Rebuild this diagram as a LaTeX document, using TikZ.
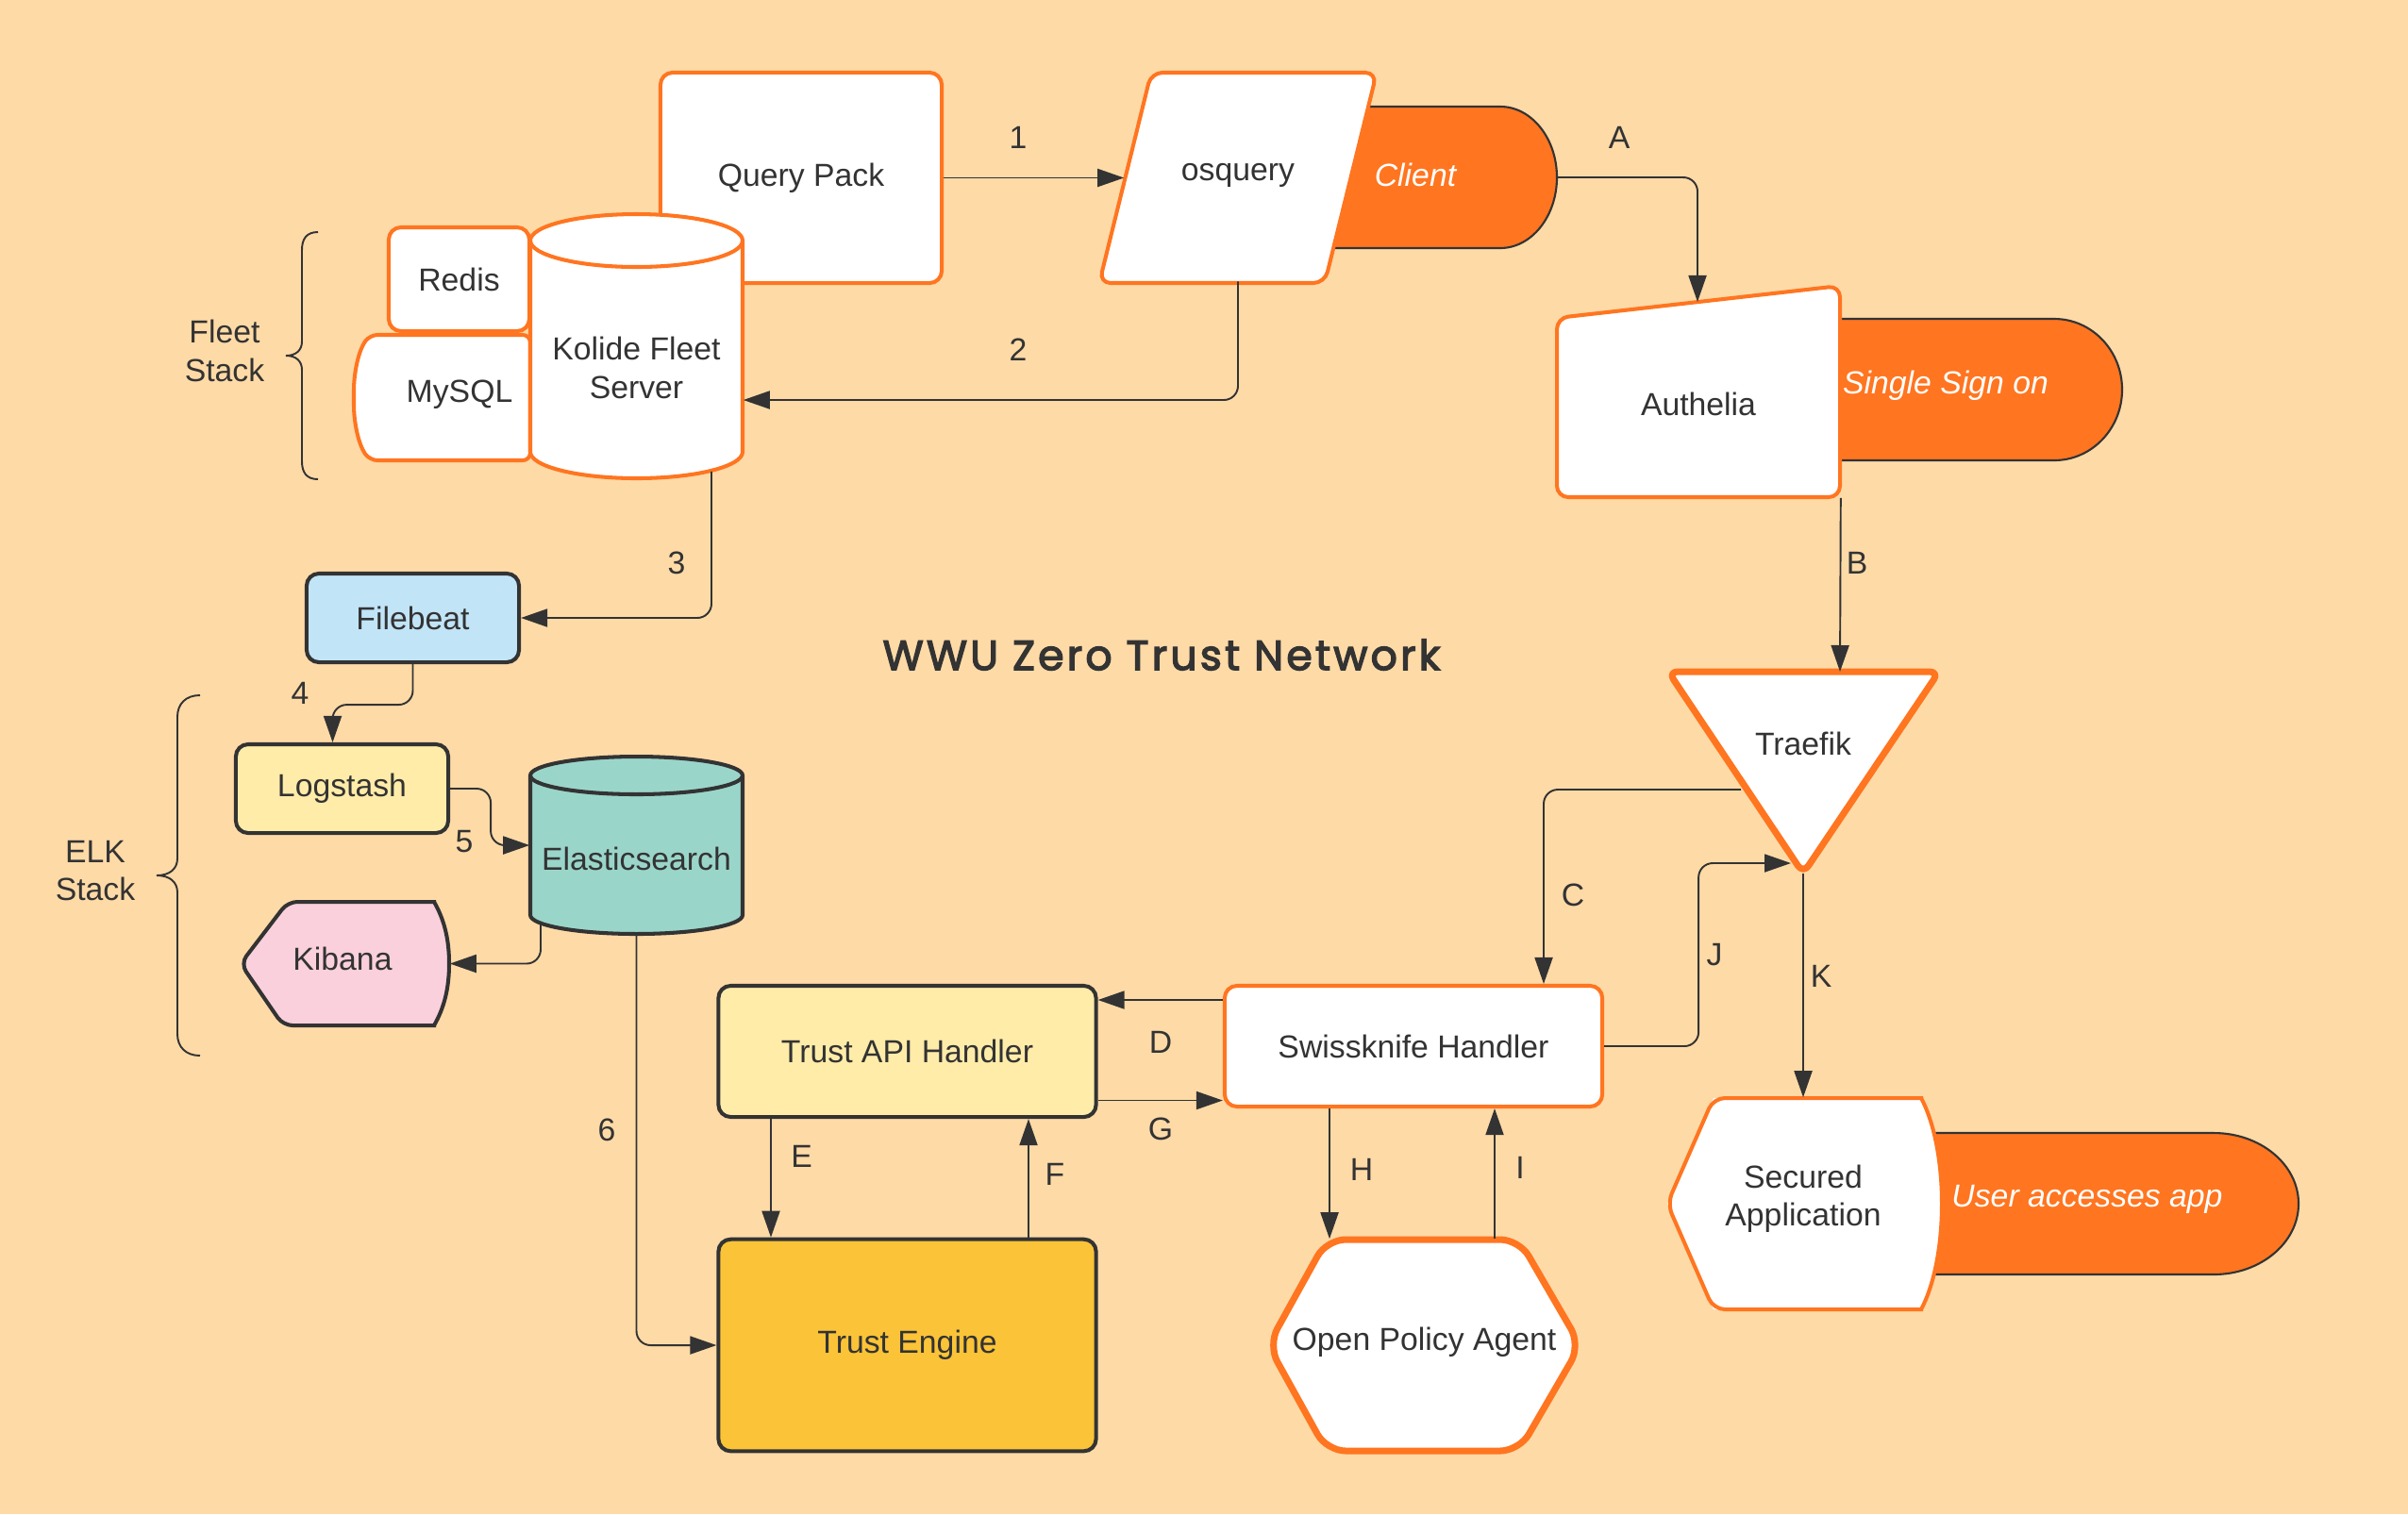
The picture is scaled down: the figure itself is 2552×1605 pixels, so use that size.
\documentclass[tikz,border=0pt]{standalone}
\usepackage{fontspec}
\setmainfont{Liberation Sans}
\newfontfamily\titlefont[FakeBold=3,LetterSpace=7]{Poppins}
\usetikzlibrary{arrows.meta,calc}
\definecolor{bgc}{RGB}{254,218,167}
\definecolor{orng}{RGB}{255,117,32}
\definecolor{dark}{RGB}{51,51,51}
\definecolor{fbblue}{RGB}{193,228,247}
\definecolor{ltyel}{RGB}{255,236,169}
\definecolor{esteal}{RGB}{154,213,202}
\definecolor{kpink}{RGB}{249,208,220}
\definecolor{amber}{RGB}{251,195,55}
\begin{document}
\begin{tikzpicture}[x=0.01cm,y=-0.01cm,
  tx/.style={font=\fontsize{9.6}{11.5}\selectfont, text=dark, align=center},
  rbox/.style={rectangle, rounded corners=0.13cm, inner sep=0pt, tx},
  ghost/.style={rectangle, inner sep=0pt, tx},
  obrd/.style={draw=orng, line width=1.15pt, fill=white},
  dbrd/.style={draw=dark, line width=1.15pt},
  tbrd/.style={draw=orng, line width=2pt, fill=white, line join=round},
  conn/.style={draw=dark, line width=0.55pt, rounded corners=0.15cm},
  arr/.style={conn, -{Triangle[length=0.28cm,width=0.19cm]}},
  pill/.style={fill=orng, draw=dark, line width=0.6pt},
  pilltx/.style={font=\fontsize{9.6}{11.5}\selectfont\itshape, text=white},
  brace/.style={draw=dark, line width=0.55pt}]
\fill[bgc] (0,0) rectangle (2552,1605);
\useasboundingbox (0,0) rectangle (2552,1605);

% ---------- title ----------
\node[font={\titlefont\fontsize{12.6}{15}\selectfont}, text=dark] (title) at (1231,694) {WWU Zero Trust Network};

% ---------- braces ----------
\draw[brace] (337,246) .. controls (325,246) and (320,253) .. (320,265) -- (320,362) .. controls (320,371) and (314,377) .. (303,377) .. controls (314,377) and (320,383) .. (320,392) -- (320,489) .. controls (320,501) and (325,508) .. (337,508);
\node[tx] (fleet) at (238,372) {Fleet\\Stack};
\draw[brace] (212,737) .. controls (197,737) and (188,746) .. (188,760) -- (188,910) .. controls (188,921) and (180,928) .. (166,928) .. controls (180,928) and (188,935) .. (188,946) -- (188,1096) .. controls (188,1110) and (197,1119) .. (212,1119);
\node[tx] (elk) at (101,923) {ELK\\Stack};

% ---------- pills ----------
\draw[pill] (1380,113) -- (1590,113) .. controls (1623,113) and (1650,146.6) .. (1650,188) .. controls (1650,229.4) and (1623,263) .. (1590,263) -- (1380,263) -- cycle;
\draw[pill] (1900,338) -- (2177,338) .. controls (2216.8,338) and (2249,371.6) .. (2249,413) .. controls (2249,454.4) and (2216.8,488) .. (2177,488) -- (1900,488) -- cycle;
\draw[pill] (2000,1201) -- (2346,1201) .. controls (2395.7,1201) and (2436,1234.6) .. (2436,1276) .. controls (2436,1317.4) and (2395.7,1351) .. (2346,1351) -- (2000,1351) -- cycle;

% ---------- top left cluster ----------
\node[rbox,obrd,minimum width=2.98cm,minimum height=2.23cm] (qp) at (849,188.5) {Query Pack};
\node[rbox,obrd,minimum width=1.49cm,minimum height=1.10cm] (redis) at (486.5,296) {Redis};
\draw[obrd, rounded corners=0.08cm] (562,355) -- (392,355) .. controls (379,373) and (375,398) .. (375,421.5) .. controls (375,445) and (379,470) .. (392,488) -- (562,488) -- cycle;
\node[ghost] (mysql) at (487,418) {MySQL};
% Kolide cylinder
\draw[obrd] (562,255) -- (562,479) .. controls (562,494.5) and (612.4,507) .. (674.5,507) .. controls (736.6,507) and (787,494.5) .. (787,479) -- (787,255) .. controls (787,239.5) and (736.6,227) .. (674.5,227) .. controls (612.4,227) and (562,239.5) .. (562,255) -- cycle;
\draw[draw=orng, line width=1.15pt] (562,255) .. controls (562,270.5) and (612.4,283) .. (674.5,283) .. controls (736.6,283) and (787,270.5) .. (787,255);
\node[ghost, minimum width=2.25cm, minimum height=2.8cm] (kfs) at (674.5,367) {};
\node[tx] (kfstext) at (674.5,390) {Kolide Fleet\\Server};

% osquery parallelogram
\draw[obrd, rounded corners=0.12cm] (1340,77) -- (1459,77) -- (1404,300) -- (1165,300) -- (1220,77) -- cycle;
\node[ghost, minimum width=2.94cm, minimum height=2.23cm] (os) at (1312,186) {osquery};
\node[pilltx] (client) at (1500,185) {Client};

% Authelia
\draw[obrd, rounded corners=0.12cm] (1800,320) -- (1950,303) -- (1950,527) -- (1650,527) -- (1650,337) -- cycle;
\node[ghost, minimum width=3.0cm, minimum height=2.24cm] (au) at (1800,415) {};
\node[tx] (autext) at (1800,428) {Authelia};
\node[pilltx] (sso) at (2062,409) {Single Sign on};

% Traefik
\draw[tbrd, rounded corners=0.1cm] (1911,712) -- (2055,712) -- (1911,926) -- (1768,712) -- cycle;
\node[tx] (tr) at (1911,788) {Traefik};

% ---------- ELK ----------
\node[rbox,dbrd,fill=fbblue,minimum width=2.25cm,minimum height=0.94cm] (fb) at (437.5,655) {Filebeat};
\node[rbox,dbrd,fill=ltyel,minimum width=2.25cm,minimum height=0.94cm] (ls) at (362.5,836) {Logstash};
\draw[dbrd, fill=esteal] (562,822) -- (562,970) .. controls (562,981) and (612.4,990) .. (674.5,990) .. controls (736.6,990) and (787,981) .. (787,970) -- (787,822) .. controls (787,811) and (736.6,802) .. (674.5,802) .. controls (612.4,802) and (562,811) .. (562,822) -- cycle;
\draw[dbrd] (562,822) .. controls (562,833) and (612.4,842) .. (674.5,842) .. controls (736.6,842) and (787,833) .. (787,822);
\node[ghost, minimum width=2.25cm, minimum height=1.88cm] (es) at (674.5,896) {};
\node[tx] (estext) at (674.5,910) {Elasticsearch};
\fill[kpink] (460,956) -- (305,956) -- (255,1021.5) -- (300,1087) -- (460,1087) .. controls (471,1068) and (476,1047) .. (476,1021.5) .. controls (476,996) and (471,975) .. (460,956) -- cycle;
\draw[dbrd, line join=round, rounded corners=0.1cm] (462,956) -- (305,956) -- (255,1021.5) -- (300,1087) -- (462,1087);
\draw[dbrd, line cap=round] (460,1087) .. controls (471,1068) and (476,1047) .. (476,1021.5) .. controls (476,996) and (471,975) .. (460,956);
\node[ghost, minimum width=2.21cm, minimum height=1.31cm] (kib) at (365.5,1021.5) {};
\node[tx] (kibtext) at (363,1016) {Kibana};

% ---------- trust ----------
\node[rbox,dbrd,fill=ltyel,minimum width=4.0cm,minimum height=1.39cm] (tapi) at (961.5,1114.5) {Trust API Handler};
\node[rbox,obrd,minimum width=4.0cm,minimum height=1.28cm] (sk) at (1498,1109) {Swissknife Handler};
\node[rbox,dbrd,fill=amber,minimum width=4.0cm,minimum height=2.245cm] (te) at (961.5,1426) {Trust Engine};
\draw[tbrd, rounded corners=0.2cm] (1508,1314) -- (1610,1314) -- (1675,1426) -- (1610,1538) -- (1406,1538) -- (1344,1426) -- (1406,1314) -- cycle;
\node[ghost, minimum width=3.31cm, minimum height=2.24cm] (opa) at (1509.5,1423) {Open Policy Agent};

% Secured application
\fill[white] (2036,1164) -- (1816,1164) -- (1767,1276) -- (1816,1388) -- (2036,1388) .. controls (2050,1362) and (2058,1320) .. (2058,1276) .. controls (2058,1232) and (2050,1190) .. (2036,1164) -- cycle;
\draw[draw=orng, line width=1.15pt, line join=round, rounded corners=0.12cm] (2038,1164) -- (1816,1164) -- (1767,1276) -- (1816,1388) -- (2038,1388);
\draw[draw=orng, line width=1.15pt, line cap=round] (2036,1388) .. controls (2050,1362) and (2058,1320) .. (2058,1276) .. controls (2058,1232) and (2050,1190) .. (2036,1164);
\node[ghost, minimum width=2.88cm, minimum height=2.24cm] (sa) at (1911,1276) {};
\node[tx] (satext) at (1911,1271) {Secured\\Application};
\node[pilltx] (uaa) at (2212,1271) {User accesses app};

% ---------- border points ----------
\coordinate (clE) at (1650,188);
\coordinate (auN) at (1799,320);
\coordinate (trN) at (1950,712);
\coordinate (trW) at (1845,837);
\coordinate (trWJ) at (1898,915);
\coordinate (trS) at (1911,926);

% ---------- connectors ----------
\draw[arr] (qp.east) -- ($(qp.east -| os.west)+(27,0)$);
\draw[arr] (os.south) |- ($(kfs.east)+(0,57)$);
\draw[arr] ($(kfs.south)+(79.5,-8)$) |- (fb.east);
\draw[arr] (fb.south) -- ++(0,43) -| ($(ls.north)+(-10,0)$);
\draw[arr] (ls.east) -- ++(43,0) |- (es.west);
\draw[arr] ($(es.south)+(-101.5,-11)$) |- (kib.east);
\draw[arr] (es.south) |- (te.west);
\draw[arr] (clE) -| (auN);
\draw[arr] (au.south east) -- (trN);
\draw[arr] (trW) -| ($(sk.north)+(138,0)$);
\draw[arr] ($(sk.west)+(0,-49)$) -- ($(tapi.east)+(0,-54.5)$);
\draw[arr] ($(tapi.east)+(0,52)$) -- ($(sk.west)+(0,57.5)$);
\draw[arr] ($(tapi.south)+(-144.5,0)$) -- ($(te.north)+(-144.5,0)$);
\draw[arr] ($(te.north)+(128.5,0)$) -- ($(tapi.south)+(128.5,0)$);
\draw[arr] ($(sk.south)+(-89,0)$) -- ($(sk.south |- opa.north)+(-89,3)$);
\draw[arr] ($(sk.south |- opa.north)+(86,3)$) -- ($(sk.south)+(86,0)$);
\draw[arr] (sk.east) -- ++(100,0) |- (trWJ);
\draw[arr] (trS) -- (sa.north);

% ---------- labels ----------
\node[tx] (l1) at (1079,146) {1};
\node[tx] (l2) at (1079,371) {2};
\node[tx] (l3) at (717,597) {3};
\node[tx] (l4) at (318,735) {4};
\node[tx] (l5) at (492,892) {5};
\node[tx] (l6) at (643,1198) {6};
\node[tx] (lA) at (1716,146) {A};
\node[tx] (lB) at (1968,597) {B};
\node[tx] (lC) at (1667,949) {C};
\node[tx] (lD) at (1230,1105) {D};
\node[tx] (lE) at (849.5,1226) {E};
\node[tx] (lF) at (1118,1245) {F};
\node[tx] (lG) at (1230,1197) {G};
\node[tx] (lH) at (1443,1240) {H};
\node[tx] (lI) at (1611,1238) {I};
\node[tx] (lJ) at (1817,1012) {J};
\node[tx] (lK) at (1930,1035) {K};
\end{tikzpicture}
\end{document}
